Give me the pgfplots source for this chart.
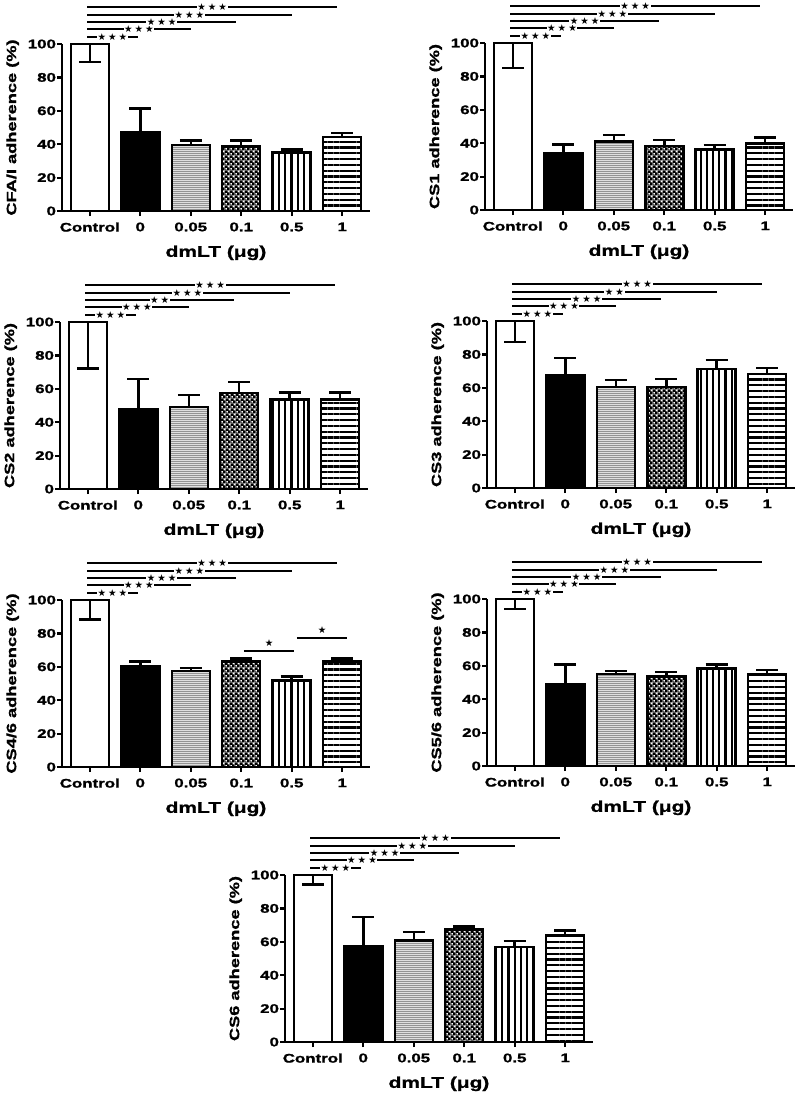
\documentclass[border=0pt]{standalone}
\usepackage{pgfplots}
\pgfplotsset{compat=1.18}
\usepackage{fontspec}
\setmainfont{Liberation Sans}[FakeStretch=1.35, BoldFeatures={FakeBold=1.2}]
\newfontfamily\sym{DejaVu Sans}
\usetikzlibrary{patterns,patterns.meta}

\pgfdeclarepatternformonly{checker}{\pgfpointorigin}{\pgfpoint{4.8pt}{4.8pt}}{\pgfpoint{4.8pt}{4.8pt}}{%
  \pgfseteorule
  \pgfpathrectangle{\pgfpointorigin}{\pgfpoint{4.8pt}{4.8pt}}%
  \pgfpathrectangle{\pgfpoint{0.3pt}{0.3pt}}{\pgfpoint{1.9pt}{1.9pt}}%
  \pgfpathrectangle{\pgfpoint{2.7pt}{2.7pt}}{\pgfpoint{1.9pt}{1.9pt}}%
  \pgfusepath{fill}}

\pgfplotsset{
  panel/.style={
    scale only axis, width=308pt, height=167pt,
    xmin=-0.55, xmax=5.55, ymin=0, ymax=100,
    axis x line*=bottom, axis y line*=left,
    axis line style={line width=2.6pt},
    xtick={0,...,5}, xticklabels={Control,0,0.05,0.1,0.5,1},
    ytick={0,20,...,100},
    tick align=outside, major tick length=5pt,
    every tick/.style={black, line width=2.2pt},
    /pgf/number format/assume math mode=true,
    ticklabel style={font=\bfseries\fontsize{12.5}{13}\selectfont},
    xticklabel style={yshift=-3pt},
    yticklabel style={xshift=2.5pt},
    xlabel={dmLT (μg)},
    xlabel style={font=\bfseries\fontsize{15.5}{16}\selectfont, yshift=-7pt},
    ylabel style={font=\bfseries\fontsize{13.5}{14}\selectfont, yshift=2pt},
    clip=false,
    ybar, bar width=38pt,
  },
  bb/.style={bar shift=0pt, draw=black, line width=2.5pt,
    error bars/y dir=plus, error bars/y explicit,
    error bars/error bar style={line width=2.5pt, solid},
    error bars/error mark options={line width=2.5pt, mark size=11pt, solid, rotate=90}},
  ctrl/.style={bb, fill=white, error bars/y dir=minus},
  b0/.style={bb, fill=black},
  b1/.style={bb, preaction={fill=gray!25}, pattern={Lines[distance=2pt, line width=0.8pt]}, pattern color=gray!85},
  b2/.style={bb, preaction={fill=white}, pattern=checker},
  b3/.style={bb, preaction={fill=white}, pattern={Lines[angle=90, distance=6.2pt, line width=2.2pt]}},
  b4/.style={bb, preaction={fill=white}, pattern={Lines[angle=0, distance=5.8pt, line width=2.2pt]}},
}

% significance line from control (x=0) to x=#1 at level #2 with stars #3
\newcommand{\sig}[3]{%
  \draw[line width=1.8pt] (axis cs:-0.05,#2) -- (axis cs:#1,#2)
    node[midway, fill=white, inner sep=0.6pt, font=\sym\fontsize{9.5}{9.5}\selectfont]{#3};}
\newcommand{\sigs}[5]{%
  \sig{0.95}{104.4}{#5}\sig{2}{108.8}{#4}\sig{2.9}{113.2}{#3}\sig{4}{117.6}{#2}\sig{4.9}{122}{#1}}
\newcommand{\three}{★\hspace{2pt}★\hspace{2pt}★}
\newcommand{\two}{★\hspace{2pt}★}

\newcommand{\bars}[6]{%
  \addplot[ctrl] coordinates {(0,100) +- (0,#1)};
  \addplot[b0] coordinates {#2};
  \addplot[b1] coordinates {#3};
  \addplot[b2] coordinates {#4};
  \addplot[b3] coordinates {#5};
  \addplot[b4] coordinates {#6};}

\begin{document}
\begin{tikzpicture}
\useasboundingbox (0,0) rectangle (800pt,-1093pt);

% CFA/I
\begin{axis}[panel, at={(62pt,-211pt)}, anchor=south west, ylabel={CFA/I adherence (\%)}]
\bars{10.7}{(1,47.0) +- (0,14.3)}{(2,39.5) +- (0,2.6)}{(3,38.7) +- (0,3.4)}{(4,35.1) +- (0,1.6)}{(5,44.4) +- (0,2.2)}
\sigs{\three}{\three}{\three}{\three}{\three}
\end{axis}

% CS1
\begin{axis}[panel, at={(485pt,-210pt)}, anchor=south west, ylabel={CS1 adherence (\%)}]
\bars{14.9}{(1,33.9) +- (0,5.3)}{(2,41.0) +- (0,3.8)}{(3,38.4) +- (0,3.6)}{(4,36.1) +- (0,2.7)}{(5,39.8) +- (0,3.6)}
\sigs{\three}{\three}{\three}{\three}{\three}
\end{axis}

% CS2
\begin{axis}[panel, at={(60pt,-489pt)}, anchor=south west, ylabel={CS2 adherence (\%)}]
\bars{27.9}{(1,47.8) +- (0,18.1)}{(2,49.2) +- (0,7.0)}{(3,57.6) +- (0,6.5)}{(4,53.6) +- (0,4.2)}{(5,53.6) +- (0,4.2)}
\sigs{\three}{\three}{\two}{\three}{\three}
\end{axis}

% CS3
\begin{axis}[panel, at={(487pt,-488pt)}, anchor=south west, ylabel={CS3 adherence (\%)}]
\bars{12.5}{(1,67.4) +- (0,10.5)}{(2,60.6) +- (0,4.0)}{(3,60.6) +- (0,4.8)}{(4,71.2) +- (0,5.5)}{(5,68.2) +- (0,3.8)}
\sigs{\three}{\two}{\three}{\three}{\three}
\end{axis}

% CS4/6
\begin{axis}[panel, at={(62pt,-767pt)}, anchor=south west, ylabel={CS4/6 adherence (\%)}]
\bars{11.6}{(1,60.2) +- (0,2.9)}{(2,57.6) +- (0,1.8)}{(3,63.3) +- (0,1.8)}{(4,51.8) +- (0,2.4)}{(5,63.3) +- (0,1.8)}
\sigs{\three}{\three}{\three}{\three}{\three}
\draw[line width=1.8pt] (axis cs:3.05,69.7) -- (axis cs:4.05,69.7) node[midway, above=0pt, font=\sym\fontsize{9.5}{9.5}\selectfont]{★};
\draw[line width=1.8pt] (axis cs:4.1,77.1) -- (axis cs:5.1,77.1) node[midway, above=0pt, font=\sym\fontsize{9.5}{9.5}\selectfont]{★};
\end{axis}

% CS5/6
\begin{axis}[panel, at={(487pt,-766pt)}, anchor=south west, ylabel={CS5/6 adherence (\%)}]
\bars{6.0}{(1,49.1) +- (0,11.8)}{(2,55.1) +- (0,1.8)}{(3,53.5) +- (0,2.8)}{(4,58.5) +- (0,2.4)}{(5,54.9) +- (0,2.6)}
\sigs{\three}{\three}{\three}{\three}{\three}
\end{axis}

% CS6
\begin{axis}[panel, at={(285pt,-1042pt)}, anchor=south west, ylabel={CS6 adherence (\%)}]
\bars{5.8}{(1,57.4) +- (0,17.4)}{(2,60.8) +- (0,5.2)}{(3,67.4) +- (0,1.8)}{(4,56.8) +- (0,3.8)}{(5,63.8) +- (0,3.0)}
\sigs{\three}{\three}{\three}{\three}{\three}
\end{axis}
\end{tikzpicture}
\end{document}
